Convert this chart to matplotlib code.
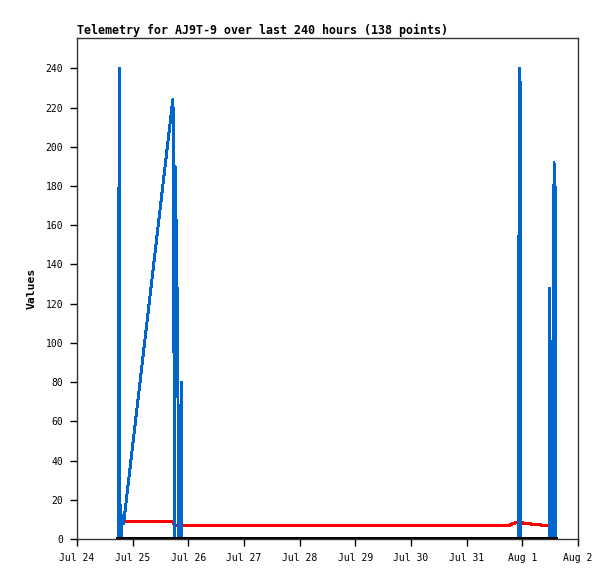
from datetime import datetime, timedelta

import matplotlib
matplotlib.use("Agg")
import matplotlib.pyplot as plt
import matplotlib.dates as mdates
from matplotlib.ticker import FuncFormatter, MultipleLocator

# hours after Jul 24 00:00
blue_hours = [17.85, 17.9, 18.05, 18.15, 18.5, 18.55, 18.8, 19.1, 19.4, 20.1,
              41.3, 41.7, 41.9, 42.3, 42.8, 43.2, 43.5, 43.7, 44.1, 44.5, 44.9, 45.1,
              190.15, 190.2, 190.45, 190.7, 191.0, 191.3,
              203.7, 203.9, 204.1,
              205.05, 205.1, 205.55, 205.65, 206.2, 206.4]
blue_values = [0, 128, 128, 240, 240, 0, 17, 0, 12, 8,
               224, 208, 0, 190, 156, 122, 87, 0, 53, 17, 80, 0,
               0, 25, 97, 240, 240, 0,
               0, 128, 0,
               0, 81, 81, 192, 177, 0]

red_hours = [20.7, 41.1, 42.3, 100.0, 186.6, 188.0, 190.5, 194.4, 200.4, 205.2]
red_values = [9, 9, 7, 7, 7, 8, 8.5, 7.8, 7.1, 7]

black_hours = [17.7, 100.0, 206.7]
black_values = [0, 0, 0]

title = "Telemetry for AJ9T-9 over last 240 hours (138 points)"
start = datetime(2023, 7, 24)
end = datetime(2023, 8, 2)


def to_times(hours):
    return [start + timedelta(hours=h) for h in hours]


mono = "DejaVu Sans Mono"
fig = plt.figure(figsize=(6.15, 5.79), dpi=100)
ax = fig.add_axes([77 / 615, 1 - 539 / 579, 501 / 615, 501 / 579])

ax.plot(to_times(red_hours), red_values, color="#ff0000", lw=1.5, antialiased=False)
ax.plot(to_times(blue_hours), blue_values, color="#0066cc", lw=1.4, antialiased=False)
ax.plot(to_times(black_hours), black_values, color="black", lw=2.6, antialiased=False)

ax.set_xlim(start, end)
ax.set_ylim(0, 255.5)
ax.yaxis.set_major_locator(MultipleLocator(20))
ax.xaxis.set_major_locator(mdates.DayLocator())
ax.xaxis.set_major_formatter(FuncFormatter(
    lambda v, pos: "{:%b} {}".format(mdates.num2date(v), mdates.num2date(v).day)))

for spine in ax.spines.values():
    spine.set_color("#333333")
    spine.set_linewidth(1)

ax.tick_params(direction="out", length=5, width=1, pad=5, labelsize=7)
for lab in ax.get_xticklabels() + ax.get_yticklabels():
    lab.set_family(mono)

ax.set_title(title, loc="left", pad=3, fontsize=8.4, fontweight="bold", family=mono)
ax.set_ylabel("Values", fontsize=8.2, fontweight="bold", family=mono, labelpad=6)

fig.savefig("out.png", dpi=100)
